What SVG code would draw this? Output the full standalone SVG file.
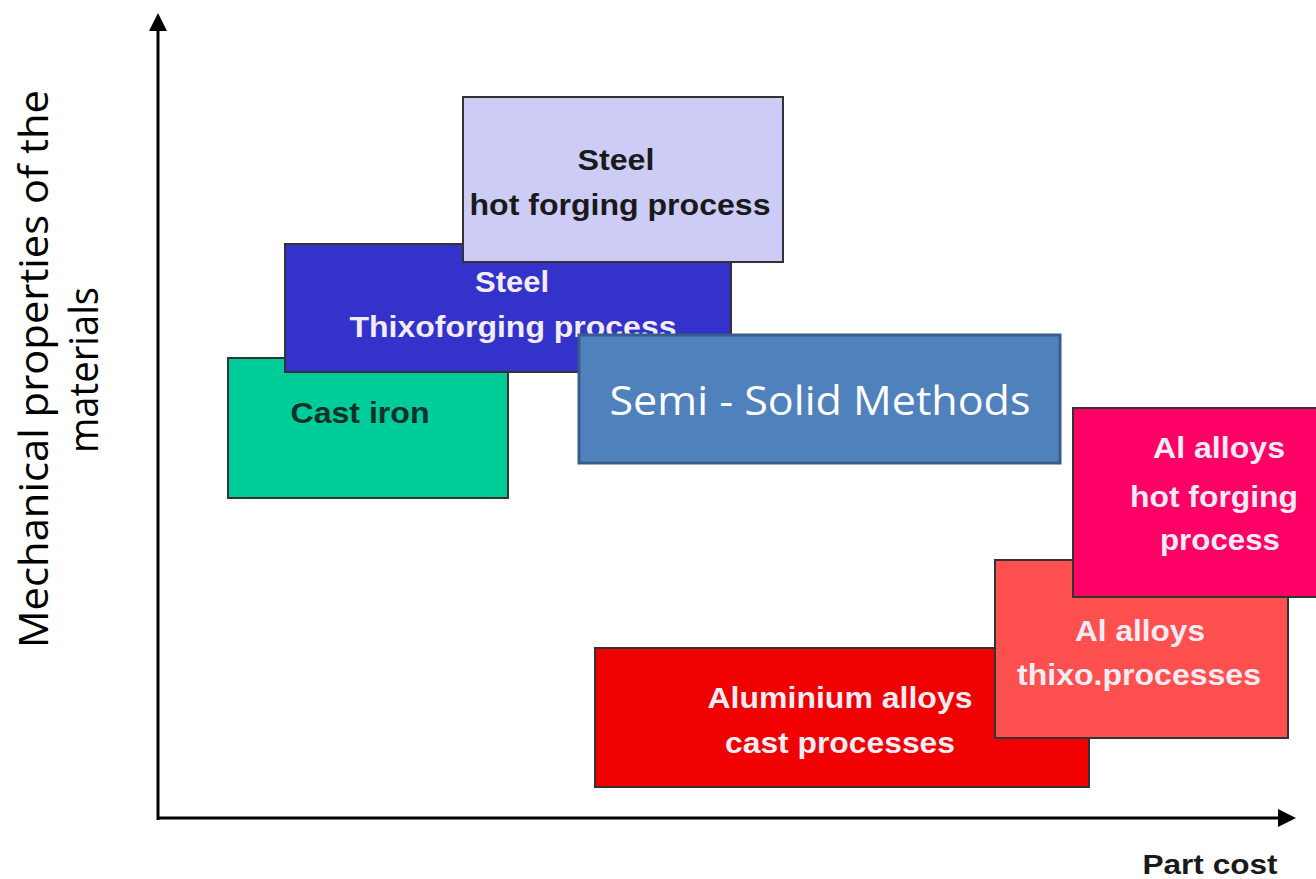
<svg xmlns="http://www.w3.org/2000/svg" width="1316" height="879" viewBox="0 0 1316 879">
<style>
.box{stroke:#333;stroke-width:2}
.lbl{font-family:"Liberation Sans",Arial,sans-serif;font-weight:bold;font-size:29px;text-anchor:middle}
.w{fill:#f4ecf4}
.d{fill:#1a1a1a}
.axis{stroke:#000;stroke-width:3;fill:none}
.seg{font-family:"Open Sans","Noto Sans",sans-serif;font-size:40px;fill:#000;text-anchor:middle}
</style>
<defs>
<marker id="arr" viewBox="0 0 10 10" refX="5" refY="5" markerWidth="6" markerHeight="6" orient="auto-start-reverse" markerUnits="strokeWidth">
<path d="M0,0 L10,5 L0,10 z" fill="#000"/>
</marker>
</defs>
<rect width="1316" height="879" fill="#fff"/>
<g id="connectors">
<line class="axis" x1="158" y1="820" x2="158" y2="22" marker-end="url(#arr)"/>
<line class="axis" x1="157" y1="818" x2="1287" y2="818" marker-end="url(#arr)"/>
</g>
<g id="y-label">
<text class="seg" transform="translate(48,369) rotate(-90)" textLength="558" lengthAdjust="spacingAndGlyphs">Mechanical properties of the</text>
<text class="seg" transform="translate(98,370) rotate(-90)" textLength="166" lengthAdjust="spacingAndGlyphs">materials</text>
</g>
<g id="x-label">
<text class="lbl d" x="1210" y="874" style="font-size:27px" textLength="135" lengthAdjust="spacingAndGlyphs">Part cost</text>
</g>
<g id="cast-iron">
<rect class="box" x="228" y="358" width="280" height="140" fill="#00CC99"/>
<text class="lbl" x="360" y="423" fill="#11302a" textLength="139" lengthAdjust="spacingAndGlyphs">Cast iron</text>
</g>
<g id="steel-thixo">
<rect class="box" x="285" y="244" width="446" height="128" fill="#3333CC"/>
<text class="lbl w" x="512" y="292" textLength="74" lengthAdjust="spacingAndGlyphs">Steel</text>
<text class="lbl w" x="513" y="337" textLength="327" lengthAdjust="spacingAndGlyphs">Thixoforging process</text>
</g>
<g id="steel-hot">
<rect class="box" x="463" y="97" width="320" height="165" fill="#CCCCF7"/>
<text class="lbl d" x="616" y="170" textLength="77" lengthAdjust="spacingAndGlyphs">Steel</text>
<text class="lbl d" x="620" y="215" textLength="301" lengthAdjust="spacingAndGlyphs">hot forging process</text>
</g>
<g id="semi-solid">
<rect x="579" y="335" width="481" height="128" fill="#4F81BD" stroke="#385D8A" stroke-width="3"/>
<text x="820" y="415" font-family="'Open Sans','Noto Sans',sans-serif" font-size="41" fill="#fff" text-anchor="middle" textLength="421" lengthAdjust="spacingAndGlyphs">Semi - Solid Methods</text>
</g>
<g id="al-cast">
<rect class="box" x="595" y="648" width="494" height="139" fill="#F00000"/>
<text class="lbl w" x="840" y="708" textLength="265" lengthAdjust="spacingAndGlyphs">Aluminium alloys</text>
<text class="lbl w" x="840" y="753" textLength="230" lengthAdjust="spacingAndGlyphs">cast processes</text>
</g>
<g id="al-thixo">
<rect class="box" x="995" y="560" width="293" height="178" fill="#FF5050"/>
<text class="lbl w" x="1140" y="641" textLength="130" lengthAdjust="spacingAndGlyphs">Al alloys</text>
<text class="lbl w" x="1139" y="685" textLength="244" lengthAdjust="spacingAndGlyphs">thixo.processes</text>
</g>
<g id="al-hot">
<rect class="box" x="1073" y="408" width="250" height="189" fill="#FF0066"/>
<text class="lbl w" x="1219" y="458" textLength="132" lengthAdjust="spacingAndGlyphs">Al alloys</text>
<text class="lbl w" x="1214" y="507" textLength="168" lengthAdjust="spacingAndGlyphs">hot forging</text>
<text class="lbl w" x="1220" y="550" textLength="120" lengthAdjust="spacingAndGlyphs">process</text>
</g>
</svg>
